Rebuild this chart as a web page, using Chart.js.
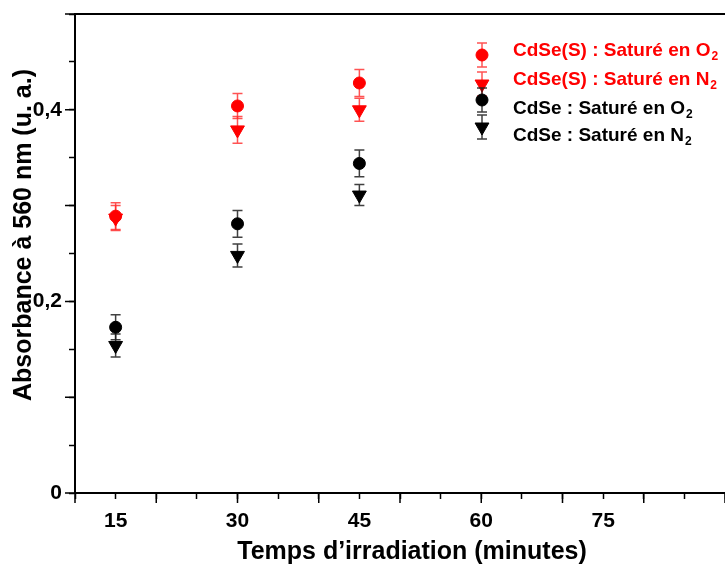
<!DOCTYPE html>
<html><head><meta charset="utf-8">
<script src="https://cdn.jsdelivr.net/npm/chart.js@4"></script>
<style>html,body{margin:0;padding:0;background:#fff;overflow:hidden}</style>
</head><body>
<canvas id="c" width="725" height="571" style="width:725px;height:571px;display:block"></canvas>
<script>
// ---- data ----
const times = [15, 30, 45];
const cdseS_O2 = [0.289, 0.404, 0.428];
const cdseS_O2_err = [0.014, 0.013, 0.014];
const cdseS_N2 = [0.287, 0.379, 0.400];
const cdseS_N2_err = [0.013, 0.014, 0.012];
const cdse_O2 = [0.173, 0.281, 0.344];
const cdse_O2_err = [0.013, 0.014, 0.014];
const cdse_N2 = [0.154, 0.248, 0.311];
const cdse_N2_err = [0.012, 0.012, 0.011];
const xTickLabels = [15, 30, 45, 60, 75];
const yTickLabels = [0, 0.2, 0.4];
const seriesNames = [
  ['CdSe(S) : Saturé en O', '2'],
  ['CdSe(S) : Saturé en N', '2'],
  ['CdSe : Saturé en O', '2'],
  ['CdSe : Saturé en N', '2']
];
const xTitle = 'Temps d\u2019irradiation (minutes)';
const yTitle = 'Absorbance à 560 nm (u. a.)';

const RED = '#ff0000', BLK = '#000000';
const FONT = '"Liberation Sans", Arial, sans-serif';

function pts(vals, errs) { return times.map((t, i) => ({x: t, y: vals[i], e: errs[i]})); }

const datasets = [
  {label: seriesNames[0].join(''), data: pts(cdseS_O2, cdseS_O2_err), pointStyle: 'circle', pointRadius: 6, backgroundColor: RED, borderColor: RED, errColor: 'rgba(255,40,40,0.8)'},
  {label: seriesNames[1].join(''), data: pts(cdseS_N2, cdseS_N2_err), pointStyle: 'triangle', pointRotation: 180, pointRadius: 8, backgroundColor: RED, borderColor: RED, errColor: 'rgba(255,40,40,0.8)'},
  {label: seriesNames[2].join(''), data: pts(cdse_O2, cdse_O2_err), pointStyle: 'circle', pointRadius: 6, backgroundColor: BLK, borderColor: BLK, errColor: 'rgba(30,30,30,0.85)'},
  {label: seriesNames[3].join(''), data: pts(cdse_N2, cdse_N2_err), pointStyle: 'triangle', pointRotation: 180, pointRadius: 8, backgroundColor: BLK, borderColor: BLK, errColor: 'rgba(30,30,30,0.85)'}
];
datasets.forEach(d => { d.showLine = false; d.borderWidth = 1; d.pointHoverRadius = d.pointRadius; });

function drawErr(ctx, x, yTop, yBot, color) {
  ctx.save();
  ctx.strokeStyle = color; ctx.lineWidth = 1.5;
  ctx.beginPath();
  ctx.moveTo(x, yTop); ctx.lineTo(x, yBot);
  ctx.moveTo(x - 5, yTop); ctx.lineTo(x + 5, yTop);
  ctx.moveTo(x - 5, yBot); ctx.lineTo(x + 5, yBot);
  ctx.stroke();
  ctx.restore();
}

// stretch the plot area to the right edge of the canvas (the reference's frame runs off the picture)
const fullWidth = {
  id: 'fullWidth',
  afterLayout(chart) {
    const xs = chart.scales.x, W = chart.width;
    if (xs.right < W) {
      xs.right = W; xs.width = W - xs.left; xs.configure();
      chart.chartArea.right = W; chart.chartArea.width = W - chart.chartArea.left;
    }
  }
};

const errorBars = {
  id: 'errorBars',
  beforeDatasetsDraw(chart) {
    const ctx = chart.ctx, ys = chart.scales.y, xs = chart.scales.x;
    chart.data.datasets.forEach((ds) => {
      ds.data.forEach(p => {
        const x = xs.getPixelForValue(p.x);
        drawErr(ctx, x, ys.getPixelForValue(p.y + p.e), ys.getPixelForValue(p.y - p.e), ds.errColor);
      });
    });
  }
};

const frame = {
  id: 'frame',
  afterDraw(chart) {
    const ctx = chart.ctx, a = chart.chartArea, xs = chart.scales.x, ys = chart.scales.y;
    ctx.save();
    ctx.strokeStyle = '#000'; ctx.lineWidth = 2;
    // top border
    ctx.beginPath(); ctx.moveTo(a.left - 1, a.top); ctx.lineTo(a.right, a.top); ctx.stroke();
    // major ticks (longer)
    ctx.lineWidth = 1.5;
    ctx.beginPath();
    for (let v = 10; v <= 90; v += 10) {
      const x = xs.getPixelForValue(v);
      ctx.moveTo(x, a.bottom); ctx.lineTo(x, a.bottom + 10);
    }
    for (let k = 0; k <= 5; k++) {
      const y = ys.getPixelForValue(k / 10);
      ctx.moveTo(a.left, y); ctx.lineTo(a.left - 10, y);
    }
    ctx.stroke();
    // axis titles
    ctx.fillStyle = '#000';
    ctx.font = 'bold 25px ' + FONT;
    ctx.textAlign = 'center'; ctx.textBaseline = 'middle';
    ctx.fillText(xTitle, 412, 552);
    ctx.translate(24, 235); ctx.rotate(-Math.PI / 2);
    ctx.fillText(yTitle, 0, 0);
    ctx.restore();

    // legend
    ctx.save();
    const rows = [
      {my: 55, ty: 49}, {my: 84, ty: 78}, {my: 100, ty: 107}, {my: 127, ty: 134}
    ];
    chart.data.datasets.forEach((ds, i) => {
      const r = rows[i], mx = 482;
      drawErr(ctx, mx, r.my - 12, r.my + 12, ds.errColor);
      ctx.fillStyle = ds.backgroundColor; ctx.strokeStyle = ds.borderColor; ctx.lineWidth = 1;
      Chart.helpers.drawPoint(ctx, {pointStyle: ds.pointStyle, rotation: ds.pointRotation || 0, radius: ds.pointRadius, borderWidth: 1}, mx, r.my);
      const col = i < 2 ? RED : BLK;
      ctx.fillStyle = col;
      ctx.font = 'bold 19px ' + FONT;
      ctx.textAlign = 'left'; ctx.textBaseline = 'alphabetic';
      const tx = 513, by = r.ty + 7;
      ctx.fillText(seriesNames[i][0], tx, by);
      const w = ctx.measureText(seriesNames[i][0]).width;
      ctx.font = 'bold 12px ' + FONT;
      ctx.fillText(seriesNames[i][1], tx + w + 1, by + 4);
    });
    ctx.restore();
  }
};

new Chart(document.getElementById('c'), {
  type: 'scatter',
  data: {datasets},
  options: {
    responsive: false,
    animation: false,
    devicePixelRatio: 1,
    layout: {padding: {top: 14, right: 0, left: 0, bottom: 0}},
    plugins: {legend: {display: false}, tooltip: {enabled: false}},
    scales: {
      x: {
        type: 'linear', min: 10, max: 90,
        afterFit(s) { s.height = 78; s.paddingLeft = 0; s.paddingRight = 0; },
        border: {display: true, color: '#000', width: 2},
        grid: {display: true, drawOnChartArea: false, drawTicks: true, tickLength: 6, tickColor: '#000', tickWidth: 1.5},
        ticks: {
          stepSize: 5, autoSkip: false, maxRotation: 0, color: '#000', padding: 10,
          font: {family: FONT, size: 21, weight: 'bold'},
          callback: (v) => xTickLabels.includes(Math.round(v)) ? String(Math.round(v)) : ''
        }
      },
      y: {
        type: 'linear', min: 0, max: 0.5,
        afterFit(s) { s.width = 75; s.paddingTop = 0; s.paddingBottom = 0; },
        border: {display: true, color: '#000', width: 2},
        grid: {display: true, drawOnChartArea: false, drawTicks: true, tickLength: 6, tickColor: '#000', tickWidth: 1.5},
        ticks: {
          stepSize: 0.05, autoSkip: false, color: '#000', padding: 7,
          font: {family: FONT, size: 21, weight: 'bold'},
          callback: (v) => {
            const r = Math.round(v * 100) / 100;
            return yTickLabels.includes(r) ? String(r).replace('.', ',') : '';
          }
        }
      }
    }
  },
  plugins: [fullWidth, errorBars, frame]
});
</script>
</body></html>
